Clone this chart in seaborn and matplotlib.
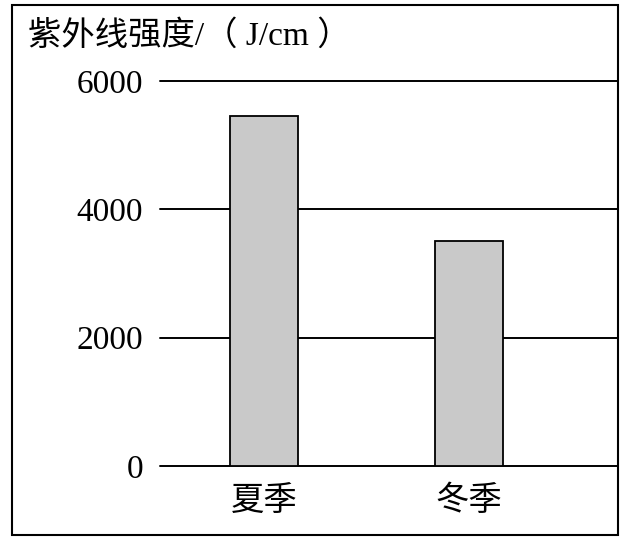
import matplotlib
matplotlib.use("Agg")
import matplotlib.pyplot as plt
import seaborn as sns
import pandas as pd
from matplotlib.patches import Rectangle

# data
seasons = ["夏季", "冬季"]
uv_values = [5450, 3500]
y_ticks = [0, 2000, 4000, 6000]
y_title = "紫外线强度/（ J/cm ）"

sns.set_style("white", {"text.color": "black", "xtick.color": "black",
                        "ytick.color": "black"})
plt.rcParams['font.family'] = ['Liberation Serif', 'Noto Sans CJK SC']

W, H = 635, 543
fig = plt.figure(figsize=(W / 100, H / 100), dpi=100)
ax = fig.add_axes([160 / W, (H - 466) / H, (618 - 160) / W, (466 - 81) / H])

df = pd.DataFrame({"season": seasons, "uv": uv_values})
sns.barplot(data=df, x="season", y="uv", ax=ax, width=0.33,
            color="#c9c9c9", edgecolor="black", linewidth=1.3, saturation=1)

ax.set_xlim(-0.507, 1.727)
ax.set_ylim(0, 6000)
ax.set_yticks(y_ticks)
ax.set_yticklabels([str(t) for t in y_ticks], fontsize=24, family='Liberation Serif')
ax.set_xticklabels(seasons, fontsize=24, family=['Noto Sans CJK SC'])
ax.tick_params(axis='both', length=0, labelcolor="black")
ax.tick_params(axis='y', pad=12)
ax.tick_params(axis='x', pad=12)
ax.set_xlabel("")
ax.set_ylabel("")
for s in ax.spines.values():
    s.set_visible(False)
ax.yaxis.grid(True, color="black", linewidth=1.4)
ax.set_axisbelow(True)
for line in ax.get_ygridlines():
    line.set_clip_on(False)

fig.text(28 / W, 1 - 36 / H, y_title, fontsize=24, va='center', ha='left',
         color="black", family=['Liberation Serif', 'Noto Sans CJK SC'])

# outer frame
fig.patches.append(Rectangle((12 / W, 8 / H), (618 - 12) / W, (538 - 8) / H,
                             transform=fig.transFigure, fill=False,
                             edgecolor="black", linewidth=1.5))

fig.savefig("out.png", dpi=100)
